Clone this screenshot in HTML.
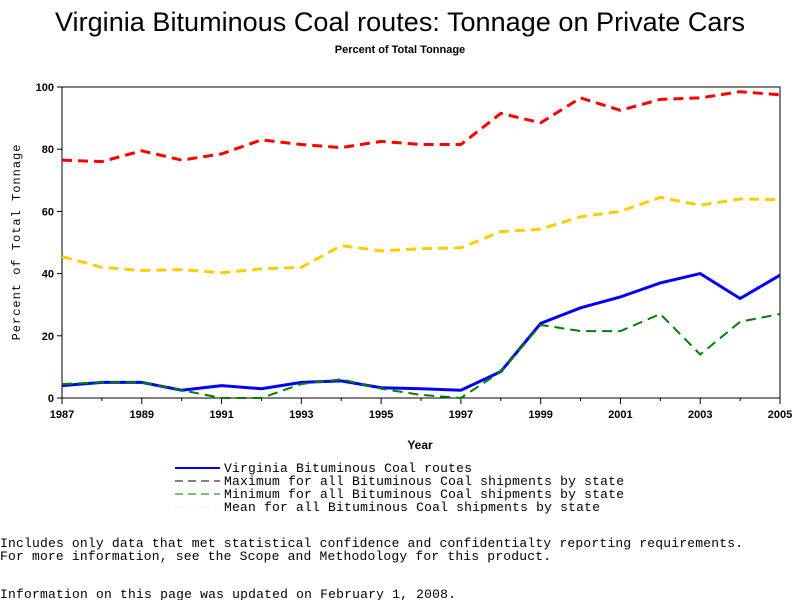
<!DOCTYPE html>
<html><head><meta charset="utf-8"><style>
html,body{margin:0;padding:0;background:#fff;width:800px;height:600px;overflow:hidden}
svg{display:block}
</style></head><body>
<svg id="chart" width="800" height="600" xmlns="http://www.w3.org/2000/svg">
<text x="400" y="31" text-anchor="middle" font-family="Liberation Sans, sans-serif" font-size="27" textLength="690">Virginia Bituminous Coal routes: Tonnage on Private Cars</text>
<text x="400" y="53" text-anchor="middle" font-family="Liberation Sans, sans-serif" font-size="11" font-weight="bold">Percent of Total Tonnage</text>
<g id="axes"></g>
<g id="series"></g>
<text x="20" y="242" transform="rotate(-90 20 242)" text-anchor="middle" font-family="Liberation Mono, monospace" font-size="12" letter-spacing="1">Percent of Total Tonnage</text>
<text x="420" y="449" text-anchor="middle" font-family="Liberation Sans, sans-serif" font-size="12" font-weight="bold">Year</text>
<g font-family="Liberation Mono, monospace" font-size="13">
<line x1="175" y1="468" x2="220" y2="468" stroke="#0000ff" stroke-width="2"/>
<text x="224" y="472" textLength="248">Virginia Bituminous Coal routes</text>
<line x1="175" y1="481" x2="220" y2="481" stroke="#000" stroke-dasharray="8,5"/>
<text x="224" y="485" textLength="400">Maximum for all Bituminous Coal shipments by state</text>
<line x1="175" y1="494" x2="220" y2="494" stroke="#007f00" stroke-dasharray="8,5"/>
<text x="224" y="498" textLength="400">Minimum for all Bituminous Coal shipments by state</text>
<line x1="175" y1="507" x2="220" y2="507" stroke="#eee" stroke-dasharray="8,5"/>
<text x="224" y="511" textLength="376">Mean for all Bituminous Coal shipments by state</text>
</g>
<g font-family="Liberation Mono, monospace" font-size="13">
<text x="0" y="547" textLength="743">Includes only data that met statistical confidence and confidentialty reporting requirements.</text>
<text x="0" y="560" textLength="551">For more information, see the Scope and Methodology for this product.</text>
<text x="0" y="598" textLength="456">Information on this page was updated on February 1, 2008.</text>
</g>
</svg>
<script>
const years=[1987,1988,1989,1990,1991,1992,1993,1994,1995,1996,1997,1998,1999,2000,2001,2002,2003,2004,2005];
const maxVals=[76.5,76,79.5,76.5,78.5,83,81.5,80.5,82.5,81.5,81.5,91.5,88.5,96.5,92.5,96,96.5,98.5,97.5];
const meanVals=[45.5,42,41,41.3,40.3,41.5,42,49,47.3,48,48.3,53.5,54.3,58.3,60,64.5,62,64,63.8];
const vaVals=[4,5,5,2.5,4,3,5,5.5,3.3,3,2.5,8.5,24,29,32.5,37,40,32,39.5];
const minVals=[4.5,5,5,2.5,0,0,4.5,6,3,1,0,8.5,23.5,21.5,21.5,27,14,24.5,27];
const yTicks=[0,20,40,60,80,100];
const xTickLabels=[1987,1989,1991,1993,1995,1997,1999,2001,2003,2005];
const X0=62,X1=780,Y0=398,Y1=87;
const xs=y=>X0+(y-1987)/(2005-1987)*(X1-X0);
const ys=v=>Y0-v/100*(Y0-Y1);
const NS="http://www.w3.org/2000/svg";
const axes=document.getElementById('axes'),series=document.getElementById('series');
function mk(tag,attrs,parent){const e=document.createElementNS(NS,tag);for(const k in attrs)e.setAttribute(k,attrs[k]);parent.appendChild(e);return e;}
const frame=mk('rect',{x:X0,y:Y1,width:X1-X0,height:Y0-Y1,fill:'none',stroke:'#000','stroke-width':1},axes);


yTicks.forEach(t=>{
 const l=mk('line',{x1:X0-5,x2:X0,y1:ys(t),y2:ys(t),stroke:'#000'},axes);
 
 
 const tx=mk('text',{x:X0-8,y:ys(t)+4,'text-anchor':'end','font-family':'Liberation Sans, sans-serif','font-size':11,'font-weight':'bold'},axes);
 tx.textContent=t;
 
 
});
years.forEach(y=>{
 const major=xTickLabels.includes(y);
 const l=mk('line',{x1:xs(y),x2:xs(y),y1:Y0,y2:Y0+(major?6:3),stroke:'#000'},axes);
 
 
});
xTickLabels.forEach(y=>{
 const tx=mk('text',{x:xs(y),y:Y0+20,'text-anchor':'middle','font-family':'Liberation Sans, sans-serif','font-size':11,'font-weight':'bold'},axes);
 tx.textContent=y;
 
 
});
function line(vals,color,dash,w,name){
 const d=vals.map((v,i)=>(i?'L':'M')+xs(years[i]).toFixed(1)+','+ys(v).toFixed(1)).join(' ');
 const p=mk('path',{d:d,fill:'none',stroke:color,'stroke-width':w,'stroke-dasharray':dash},series);
 
 
}
line(maxVals,'#ff0000','10,6',3,'line-maximum');
line(meanVals,'#ffcc00','10,6',3,'line-mean');
line(vaVals,'#0000ff','none',3,'line-virginia');
line(minVals,'#007f00','10,6',2,'line-minimum');
</script>
</body></html>
